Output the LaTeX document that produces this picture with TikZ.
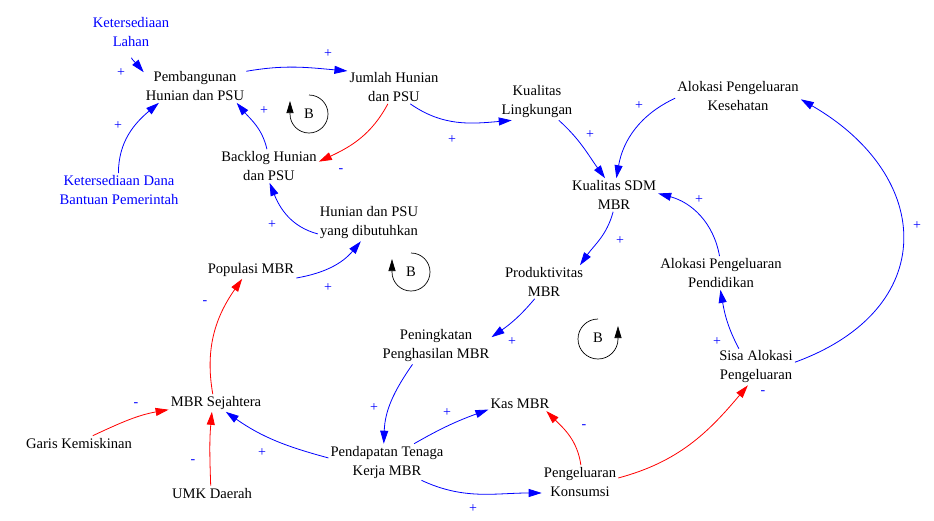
\documentclass[tikz,border=0pt]{standalone}
\usepackage{fontspec}
\setmainfont{Liberation Serif}
\usepackage{tikz}
\usetikzlibrary{arrows.meta, positioning, calc}
\definecolor{CLD_Blue}{HTML}{0000FF}
\definecolor{CLD_Red}{HTML}{FF0000}

\begin{document}
\begin{tikzpicture}[x=1pt, y=1pt,
  var/.style={align=center, inner sep=2pt, font=\fontsize{14.6}{19}\selectfont},
  link/.style={CLD_Blue, line width=0.8pt, -{Triangle[length=13pt, width=8pt]}},
  neglink/.style={link, CLD_Red},
  pol/.style={text=CLD_Blue, inner sep=0pt, font=\fontsize{14}{14}\selectfont},
  loopmark/.style={line width=0.7pt, -{Triangle[length=12pt, width=7pt]}}]
\useasboundingbox (0,0) rectangle (934,-520);
% Variables
\node[var, text=CLD_Blue] (lahan) at (131,-32) {Ketersediaan\\Lahan};
\node[var] (pemb) at (195,-86) {Pembangunan\\Hunian dan PSU};
\node[var] (jumlah) at (394,-87) {Jumlah Hunian\\dan PSU};
\node[var] (backlog) at (269,-166) {Backlog Hunian\\dan PSU};
\node[var, text=CLD_Blue] (dana) at (119,-190) {Ketersediaan Dana\\Bantuan Pemerintah};
\node[var] (butuh) at (369,-223) {Hunian dan PSU\\yang dibutuhkan};
\node[var] (kuling) at (537,-102) {Kualitas\\Lingkungan};
\node[var] (kes) at (738,-96) {Alokasi Pengeluaran\\Kesehatan};
\node[var] (sdm) at (614,-195) {Kualitas SDM\\MBR};
\node[var] (prod) at (544,-282) {Produktivitas\\MBR};
\node[var] (pend) at (721,-273) {Alokasi Pengeluaran\\Pendidikan};
\node[var] (sisa) at (756,-367) {Sisa Alokasi\\Pengeluaran};
\node[var] (kas) at (520,-404) {Kas MBR};
\node[var] (kons) at (580,-482) {Pengeluaran\\Konsumsi};
\node[var] (ningkat) at (436,-346) {Peningkatan\\Penghasilan MBR};
\node[var] (pdpt) at (387,-462) {Pendapatan Tenaga\\Kerja MBR};
\node[var] (pop) at (251,-270) {Populasi MBR};
\node[var] (sej) at (216,-403) {MBR Sejahtera};
\node[var] (garis) at (79,-443) {Garis Kemiskinan};
\node[var] (umk) at (212,-493) {UMK Daerah};
% Links
\draw[link, shorten <=9pt] (lahan.266) to[out=-80, in=130] (pemb.165);
\draw[link] (dana.92) to[out=90, in=220] (pemb.205);
\draw[link] (pemb.16) to[out=10, in=175] (jumlah.161);
\draw[neglink] (jumlah.250) to[out=242, in=25] (backlog.5);
\draw[link] (backlog.97) to[out=103, in=-50] (pemb.-22);
\draw[link] (butuh.192) to[out=165, in=-68] (backlog.272);
\draw[link] (pop.-10) to[out=10, in=-130] (butuh.246);
\draw[link] (jumlah.-46) to[out=-35, in=185] (kuling.216);
\draw[link] (kuling.-40) to[out=-42, in=126] (sdm.118);
\draw[link] (kes.182) to[out=205, in=80] (sdm.82);
\draw[link] (sdm.267) to[out=255, in=55] (prod.25);
\draw[link] (pend.95) to[out=100, in=-15] (sdm.2);
\draw[link] (sisa.7) to[out=20, in=-30, looseness=1.5] (kes.-3);
\draw[link] (sisa.133) to[out=118, in=-80] (pend.268);
\draw[link] (prod.241) to[out=230, in=35] (ningkat.9);
\draw[link] (ningkat.218) to[out=235, in=88] (pdpt.100);
\draw[link] (pdpt.176) to[out=165, in=-35] (sej.-42);
\draw[link] (pdpt.34) to[out=30, in=200] (kas.190);
\draw[link] (pdpt.-28) to[out=-25, in=180] (kons.196);
\draw[neglink] (kons.87) to[out=98, in=-45] (kas.-15);
\draw[neglink] (kons.6) to[out=15, in=230] (sisa.246);
\draw[neglink] (garis.28) to[out=25, in=190] (sej.188);
\draw[neglink] (umk.100) to[out=92, in=-95] (sej.245);
\draw[neglink] (sej.110) to[out=100, in=235] (pop.225);
% Polarities
\node[pol] (s1) at (121,-73) {+};
\node[pol] (s2) at (118,-126) {+};
\node[pol] (s3) at (328,-54) {+};
\node[pol] (s4) at (341,-171) {-};
\node[pol] (s5) at (264,-111) {+};
\node[pol] (s6) at (272,-225) {+};
\node[pol] (s7) at (328,-288) {+};
\node[pol] (s8) at (452,-140) {+};
\node[pol] (s9) at (590,-135) {+};
\node[pol] (s10) at (639,-106) {+};
\node[pol] (s11) at (620,-241) {+};
\node[pol] (s12) at (699,-200) {+};
\node[pol] (s13) at (917,-226) {+};
\node[pol] (s14) at (717,-342) {+};
\node[pol] (s15) at (512,-342) {+};
\node[pol] (s16) at (374,-408) {+};
\node[pol] (s17) at (262,-453) {+};
\node[pol] (s18) at (447,-413) {+};
\node[pol] (s19) at (473,-509) {+};
\node[pol] (s20) at (584,-427) {-};
\node[pol] (s21) at (763,-393) {-};
\node[pol] (s22) at (136,-405) {-};
\node[pol] (s23) at (193,-462) {-};
\node[pol] (s24) at (205,-303) {-};
% Loop markers
\node[var] (loopA) at (309,-114) {B};
\draw[loopmark] (loopA.center) ++(0,19) arc[start angle=90, end angle=-180, radius=19] -- ++(0,13);
\node[var] (loopB) at (411,-272) {B};
\draw[loopmark] (loopB.center) ++(0,19) arc[start angle=90, end angle=-180, radius=19] -- ++(0,13);
\node[var] (loopC) at (598,-338) {B};
\draw[loopmark] (loopC.center) ++(0,19) arc[start angle=90, end angle=360, radius=20] -- ++(0,13);
\end{tikzpicture}
\end{document}
